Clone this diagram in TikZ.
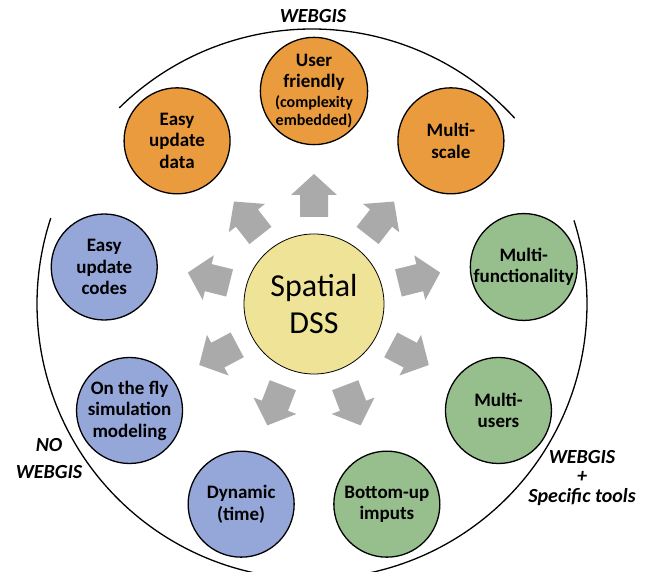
\documentclass[tikz,border=0pt]{standalone}
\usepackage{fontspec}
\setmainfont{Carlito}
\definecolor{borange}{RGB}{234,155,62}
\definecolor{bblue}{RGB}{149,166,217}
\definecolor{bgreen}{RGB}{151,190,141}
\definecolor{byellow}{RGB}{238,227,151}
\definecolor{agray}{RGB}{170,170,170}
\newcommand{\smallbub}[1]{{\fontsize{16}{18.5}\selectfont #1}}
\begin{document}
\begin{tikzpicture}[x=1pt,y=1pt,
  bub/.style={circle, draw=black, line width=1.3pt, minimum size=106pt, inner sep=0pt,
    align=center, font=\fontsize{19}{21.5}\selectfont\bfseries},
  hub/.style={circle, draw=black, line width=0.8pt, fill=byellow, minimum size=140pt,
    inner sep=0pt, align=center, font=\fontsize{32}{37}\selectfont},
  lab/.style={align=center, font=\fontsize{20}{24}\selectfont\bfseries\itshape, inner sep=0pt},
  ring/.style={line width=1.3pt, draw=black},
  blockarrow/.style={fill=agray}]
\useasboundingbox (0,0) rectangle (651,572);
\clip (0,0) rectangle (651,572);
\coordinate (C) at (314,268);
\coordinate (R) at (312,268);
% outer rings
\draw[ring] (R) ++(42.5:275pt) arc[start angle=42.5, end angle=134.5, radius=275pt];
\draw[ring] (R) ++(161.8:275pt) arc[start angle=161.8, end angle=262, radius=275pt];
\draw[ring] (R) ++(17.7:275pt) arc[start angle=17.7, end angle=-82, radius=275pt];
% block arrows
\foreach \a in {90,52,14,-28,-69,-111,-152,166,128}{
  \begin{scope}[shift={(C)}, rotate=\a]
    \fill[blockarrow] (87,-14) -- (109,-14) -- (109,-23) -- (130,0) -- (109,23) -- (109,14) -- (87,14) -- cycle;
  \end{scope}
}
% hub
\node[hub] (hub) at (C) {Spatial\\DSS};
% bubbles
\path (C) ++(90:213pt) node[bub, fill=borange] (uf) {User\\friendly\\[-2pt]\smallbub{(complexity}\\[-3pt]\smallbub{embedded)}};
\path (C) ++(50:213pt) node[bub, fill=borange] (ms) {Multi-\\scale};
\path (C) ++(130:213pt) node[bub, fill=borange] (eud) {Easy\\update\\data};
\path (C) ++(10:213pt) node[bub, fill=bgreen] (mf) {Multi-\\functionality};
\path (C) ++(-30:213pt) node[bub, fill=bgreen] (mu) {Multi-\\users};
\path (C) ++(-70:213pt) node[bub, fill=bgreen] (bu) {Bottom-up\\imputs};
\path (C) ++(-110:213pt) node[bub, fill=bblue] (dyn) {Dynamic\\(time)};
\path (C) ++(-150:213pt) node[bub, fill=bblue] (otf) {On the fly\\simulation\\modeling};
\path (C) ++(170:213pt) node[bub, fill=bblue] (euc) {Easy\\update\\codes};
% labels
\node[lab] (lweb) at (313,555.5) {WEBGIS};
\node[lab, font=\fontsize{20}{27}\selectfont\bfseries\itshape] (lno) at (49,113) {NO\\WEBGIS};
\node[lab, font=\fontsize{20}{19.5}\selectfont\bfseries\itshape] (lspec) at (582,94) {WEBGIS\\+\\Specific tools};
\end{tikzpicture}
\end{document}
